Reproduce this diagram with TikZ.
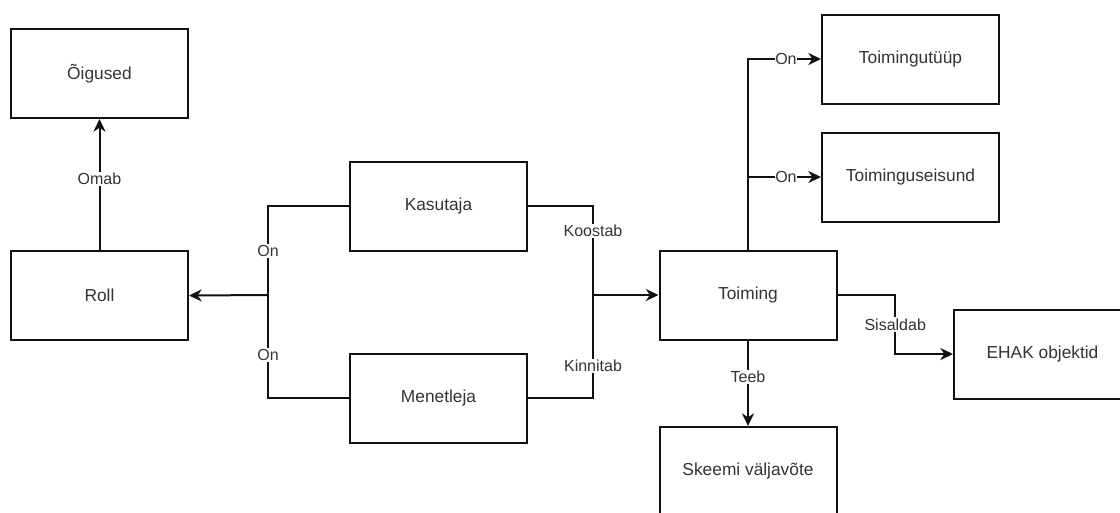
\documentclass[tikz,border=0pt]{standalone}
\usepackage{fontspec}
\setmainfont{Liberation Sans}
\usetikzlibrary{arrows.meta,calc}
\definecolor{txt}{HTML}{333333}
\definecolor{ln}{HTML}{111111}
\tikzset{
  ent/.style={draw=ln, line width=1.5pt, fill=white, minimum width=132.75pt, minimum height=66.75pt, inner sep=0pt, text=txt, font=\fontsize{13}{15}\selectfont},
  lbl/.style={fill=white, text=txt, inner sep=1pt, font=\fontsize{12}{14}\selectfont},
  conn/.style={draw=ln, line width=1.5pt},
  arr/.style={conn, -{Stealth[length=9.5pt, width=9pt, inset=3pt]}}
}
\begin{document}
\begin{tikzpicture}[x=0.75pt, y=-0.75pt]
\useasboundingbox (0,0) rectangle (1120,512);
\clip (0,0) rectangle (1120,512);
% entities
\node[ent] (oig) at (99.5,73.5) {Õigused};
\node[ent] (roll) at (99.5,295.5) {Roll};
\node[ent] (kas) at (438.5,206) {Kasutaja};
\node[ent] (men) at (438.5,398) {Menetleja};
\node[ent] (toi) at (748,295) {Toiming};
\node[ent] (tyyp) at (910.5,59) {Toimingutüüp};
\node[ent] (seis) at (910.5,177) {Toiminguseisund};
\node[ent] (ehak) at (1042.5,354) {EHAK objektid};
\node[ent] (skeem) at (748,471.5) {Skeemi väljavõte};
% junctions
\coordinate (jl) at (268,295);
\coordinate (jr) at (593,295);
\coordinate (tb) at (toi.north |- seis.west);
% connectors
\draw[arr] (roll.north) -- (oig.south) node[lbl, pos=0.54] {Omab};
\draw[conn] (kas.west) -| (jl) node[lbl, pos=0.75] {On};
\draw[conn] (men.west) -| (jl) node[lbl, pos=0.71] {On};
\draw[arr] (jl) -- (roll.east);
\draw[conn] (kas.east) -| (jr) node[lbl, pos=0.64] {Koostab};
\draw[conn] (men.east) -| (jr) node[lbl, pos=0.655] {Kinnitab};
\draw[arr] (jr) -- (toi.west);
\draw[arr] (toi.north) |- (tyyp.west) node[lbl, pos=0.76, inner sep=0.5pt] {On};
\draw[arr] (tb) -- (seis.west) node[lbl, pos=0.52, inner sep=0.5pt] {On};
\draw[arr] (toi.east) -| ($(toi.east)!0.5!(ehak.west)$) node[lbl] {Sisaldab} |- (ehak.west);
\draw[arr] (toi.south) -- (skeem.north) node[lbl, pos=0.43] {Teeb};
\end{tikzpicture}
\end{document}
